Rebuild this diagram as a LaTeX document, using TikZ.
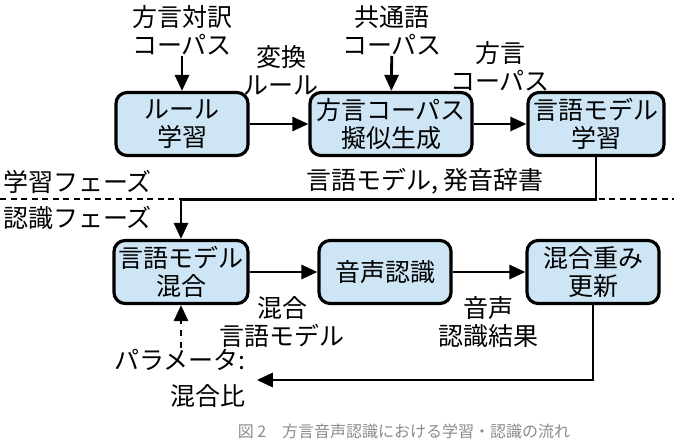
\documentclass[tikz,border=0pt]{standalone}
\usepackage{fontspec}
\setmainfont{Noto Sans CJK JP}
\usetikzlibrary{arrows.meta,positioning}
\definecolor{boxFill}{HTML}{CDE5F4}
\definecolor{captionGray}{HTML}{8A8A8A}

\begin{document}
\begin{tikzpicture}[x=1pt,y=-1pt,
    every node/.style={font=\fontsize{25}{28}\selectfont, align=center, inner sep=1pt},
    proc/.style={draw, line width=3.2pt, rounded corners=11pt, fill=boxFill,
                 minimum width=132pt, minimum height=63pt},
    flow/.style={line width=2.8pt, -{Triangle[length=16pt,width=14pt]}}]
\useasboundingbox (0,0) rectangle (674,442);

% learning phase
\node[proc] (ruleLearn) at (182,124) {ルール\\学習};
\node[proc, minimum width=162pt] (pseudoGen) at (391,124) {方言コーパス\\擬似生成};
\node[proc, minimum width=136pt] (lmLearn) at (596,124) {言語モデル\\学習};
\node (pairCorpus) at (182,30) {方言対訳\\コーパス};
\node (stdCorpus) at (392,30) {共通語\\コーパス};
\node (convRule) at (281,70) {変換\\ルール};
\node (dialCorpus) at (500,66) {方言\\コーパス};
\draw[flow] (pairCorpus) -- (ruleLearn);
\draw[flow] (stdCorpus) -- (pseudoGen);
\draw[flow] (ruleLearn) -- (pseudoGen);
\draw[flow] (pseudoGen) -- (lmLearn);

% phase border
\node[anchor=west] (learnPhase) at (2,182) {学習フェーズ};
\node[anchor=west] (recogPhase) at (2,218) {認識フェーズ};
\draw[line width=2.6pt, dash pattern=on 6pt off 4.5pt] (0,199) -- (674,199);
\node (lmDict) at (425,181) {言語モデル, 発音辞書};

% recognition phase
\node[proc, minimum width=134pt] (lmMix) at (181,272) {言語モデル\\混合};
\node[proc] (asr) at (385,272) {音声認識};
\node[proc] (weightUpd) at (593,272) {混合重み\\更新};
\draw[flow] (lmLearn.south) -- ++(0,42) -| (lmMix.north);
\draw[flow] (lmMix) -- (asr);
\draw[flow] (asr) -- (weightUpd);
\node (mixLm) at (282,322) {混合\\言語モデル};
\node (asrResult) at (488,322) {音声\\認識結果};
\node[align=right] (mixParam) at (180,378) {パラメータ:\\[8pt]混合比};
\draw[flow, dash pattern=on 6pt off 6pt] (lmMix.south |- mixParam.north) -- (lmMix.south);
\draw[flow] (weightUpd.south) |- ([xshift=10pt,yshift=-2pt]mixParam.east);

% caption
\node[font=\fontsize{16}{18}\selectfont, text=captionGray] (caption) at (404,431)
  {図 2　方言音声認識における学習・認識の流れ};
\end{tikzpicture}
\end{document}
